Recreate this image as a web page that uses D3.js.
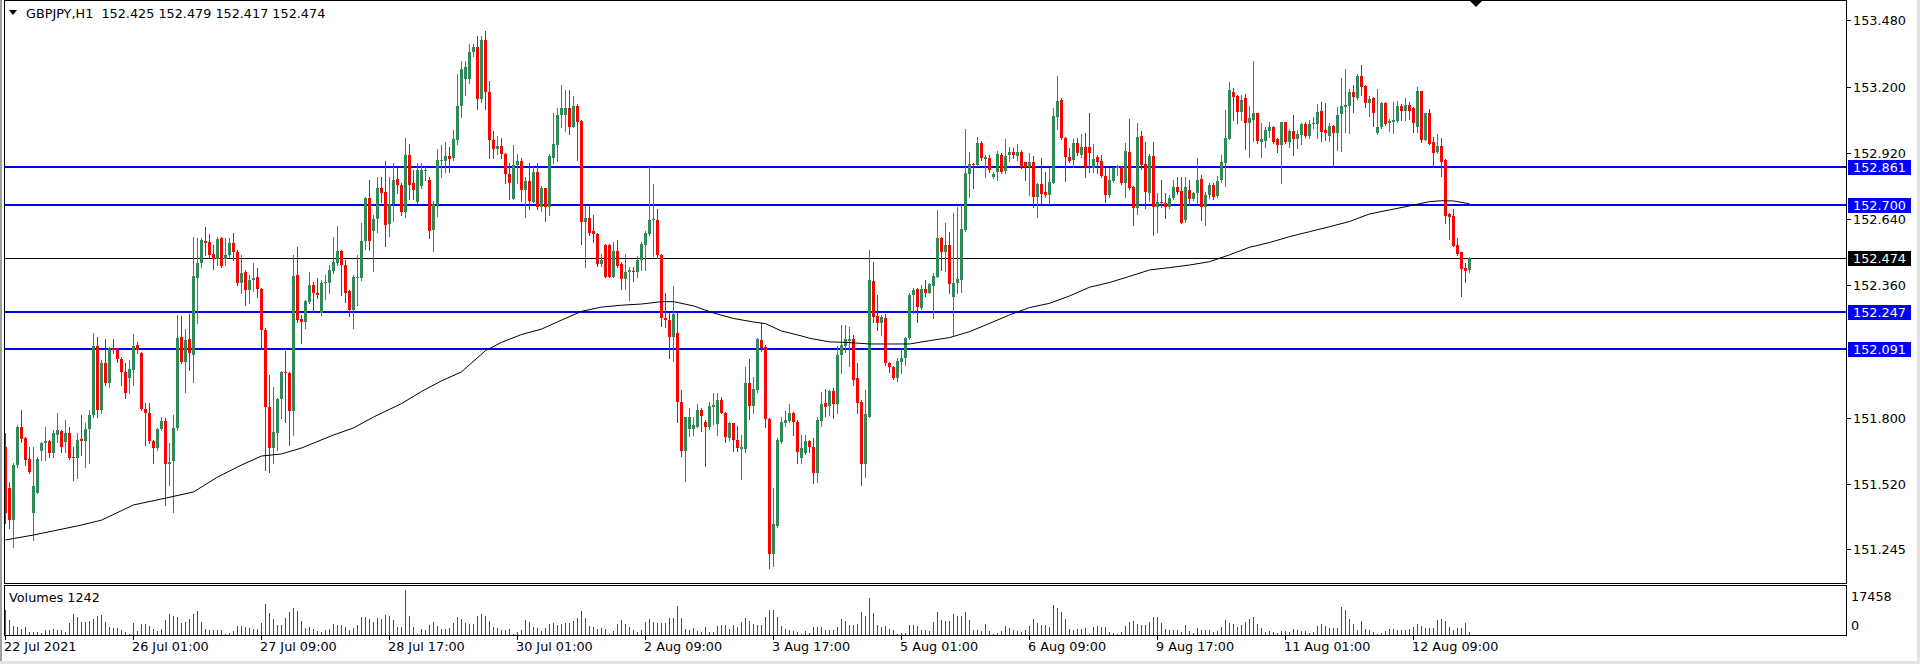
<!DOCTYPE html>
<html><head><meta charset="utf-8">
<script src="https://cdn.jsdelivr.net/npm/d3@7"></script>
<style>
html,body{margin:0;padding:0;background:#fff;overflow:hidden;}
svg{display:block;}
text{font-family:"DejaVu Sans",sans-serif;font-size:12.8px;white-space:pre;}
</style></head><body>
<svg id="c" width="1920" height="664"></svg>
<script>
const symbolTitle = "GBPJPY,H1  152.425 152.479 152.417 152.474";
const opens = [
151.677,151.500,151.366,151.599,151.761,151.712,151.623,151.395,151.482,151.660,
151.691,151.702,151.648,151.726,151.743,151.698,151.733,151.634,151.630,151.708,
151.702,151.750,151.811,152.102,151.832,152.029,151.945,152.093,152.088,152.046,
151.994,151.966,152.001,152.105,152.074,151.835,151.818,151.702,151.670,151.750,
151.787,151.602,151.617,151.754,152.139,152.036,152.131,152.064,152.389,152.452,
152.547,152.541,152.492,152.469,152.558,152.469,152.487,152.537,152.501,152.370,
152.415,152.339,152.382,152.393,152.342,152.170,151.843,151.670,151.736,151.878,
151.991,151.987,151.829,152.403,152.215,152.205,152.290,152.360,152.325,152.241,
152.370,152.370,152.421,152.452,152.504,152.445,152.335,152.255,152.393,152.389,
152.548,152.730,152.589,152.638,152.769,152.755,152.618,152.703,152.807,152.785,
152.668,152.909,152.793,152.710,152.778,152.846,152.804,152.592,152.698,152.884,
152.884,152.906,152.899,152.974,153.118,153.231,153.231,153.344,153.367,153.148,
153.397,153.178,152.974,152.936,152.948,152.914,152.831,152.725,152.868,152.884,
152.763,152.801,152.713,152.838,152.692,152.770,152.692,152.899,152.952,153.080,
153.080,153.110,153.030,153.118,153.053,152.627,152.642,152.589,152.577,152.450,
152.529,152.529,152.396,152.506,152.449,152.385,152.415,152.418,152.415,152.468,
152.529,152.577,152.634,152.634,152.486,152.219,152.212,152.139,152.159,151.864,
151.660,151.751,151.751,151.761,151.831,151.781,151.759,151.845,151.774,151.872,
151.819,151.713,151.777,151.706,151.668,151.668,151.947,151.849,151.917,152.128,
152.098,151.792,151.223,151.343,151.698,151.777,151.786,151.819,151.781,151.627,
151.649,151.701,151.674,151.567,151.787,151.860,151.850,151.914,151.857,152.065,
152.103,152.125,152.131,151.966,151.867,151.603,151.804,152.379,152.229,152.201,
152.222,152.032,152.015,151.966,152.036,152.050,152.135,152.318,152.342,152.262,
152.342,152.328,152.356,152.396,152.558,152.502,152.530,152.308,152.371,152.382,
152.593,152.830,152.872,152.868,152.960,152.892,152.896,152.819,152.840,152.911,
152.844,152.911,152.925,152.906,152.925,152.882,152.858,152.882,152.734,152.788,
152.755,152.741,152.794,153.073,153.143,152.981,152.903,152.889,152.963,152.911,
152.943,152.943,152.854,152.903,152.887,152.822,152.741,152.802,152.854,152.861,
152.791,152.923,152.777,152.685,152.991,152.872,152.751,152.906,152.692,152.713,
152.709,152.692,152.727,152.777,152.760,152.636,152.763,152.723,152.748,152.808,
152.692,152.741,152.784,152.737,152.805,152.878,152.978,153.178,153.160,153.094,
153.150,153.047,153.059,153.090,152.967,152.971,153.013,153.028,152.977,152.953,
153.052,152.967,153.013,152.977,152.995,153.042,152.991,153.042,153.042,153.098,
153.016,152.991,153.033,153.002,153.084,153.115,153.118,153.178,153.150,153.245,
153.202,153.129,153.150,153.002,153.028,153.132,153.044,153.052,153.056,153.118,
153.098,153.122,153.108,153.030,153.183,152.974,153.087,152.966,152.925,152.949,
152.889,152.661,152.653,152.530,152.502,152.433,152.425];
const highs = [
151.733,151.529,151.606,151.768,151.832,151.719,151.677,151.677,151.634,151.698,
151.761,151.705,151.747,151.818,151.747,151.789,151.761,151.677,151.733,151.811,
151.775,151.832,152.156,152.142,152.043,152.131,152.100,152.131,152.093,152.057,
152.029,152.043,152.152,152.121,152.078,151.860,151.860,151.705,151.754,151.803,
151.796,151.691,151.811,152.234,152.229,152.173,152.238,152.565,152.558,152.558,
152.604,152.575,152.530,152.565,152.565,152.558,152.558,152.579,152.508,152.487,
152.424,152.403,152.452,152.431,152.346,152.177,151.980,151.930,151.881,151.998,
152.083,151.994,152.487,152.523,152.234,152.297,152.417,152.375,152.389,152.382,
152.403,152.445,152.565,152.610,152.508,152.466,152.339,152.403,152.487,152.621,
152.734,152.805,152.657,152.819,152.819,152.885,152.816,152.875,152.854,152.793,
152.982,152.959,152.846,152.876,152.876,152.861,152.816,152.717,152.936,152.952,
152.964,152.944,153.015,153.254,153.306,153.306,153.382,153.382,153.412,153.412,
153.435,153.223,153.012,152.989,152.982,152.918,152.876,152.952,152.914,152.899,
152.816,152.876,152.861,152.876,152.778,152.770,152.914,153.090,153.110,153.208,
153.186,153.186,153.160,153.125,153.057,152.695,152.695,152.657,152.582,152.491,
152.536,152.532,152.544,152.551,152.456,152.491,152.438,152.438,152.483,152.544,
152.589,152.858,152.788,152.683,152.491,152.325,152.242,152.355,152.242,151.917,
151.804,151.842,151.804,151.857,151.842,151.789,151.867,151.902,151.902,151.887,
151.822,151.781,151.777,151.766,151.728,152.015,152.046,151.970,152.136,152.200,
152.106,151.796,151.502,151.713,151.804,151.827,151.857,151.822,151.789,151.726,
151.726,151.705,151.712,151.804,151.910,151.919,151.917,151.924,152.103,152.191,
152.191,152.182,152.149,152.029,151.874,151.917,152.509,152.459,152.318,152.234,
152.238,152.036,152.018,152.050,152.089,152.142,152.328,152.347,152.347,152.361,
152.382,152.371,152.410,152.678,152.565,152.622,152.586,152.667,152.692,152.699,
153.019,152.925,152.875,152.988,152.971,152.911,152.911,152.840,152.929,152.918,
152.977,152.943,152.939,152.957,152.932,152.882,152.920,152.906,152.794,152.896,
152.840,152.854,153.108,153.245,153.150,152.985,152.939,152.977,152.981,153.000,
153.002,153.087,152.957,152.911,152.911,152.858,152.854,152.858,152.868,152.864,
152.963,153.061,152.779,153.044,153.013,152.967,152.915,152.967,152.748,152.805,
152.748,152.741,152.805,152.819,152.819,152.819,152.805,152.755,152.896,152.826,
152.755,152.791,152.791,152.822,152.911,153.101,153.221,153.193,153.164,153.164,
153.169,153.118,153.310,153.090,153.047,153.028,153.052,153.033,152.981,153.052,
153.052,153.019,153.080,153.016,153.044,153.052,153.059,153.070,153.126,153.136,
153.132,153.044,153.037,153.115,153.235,153.273,153.188,153.207,153.253,153.291,
153.207,153.160,153.154,153.188,153.136,153.136,153.061,153.136,153.140,153.126,
153.150,153.136,153.115,153.197,153.183,153.090,153.104,152.985,153.000,152.981,
152.892,152.664,152.681,152.558,152.502,152.452,152.479];
const lows = [
151.352,151.331,151.254,151.592,151.698,151.599,151.564,151.282,151.479,151.620,
151.620,151.634,151.634,151.698,151.656,151.656,151.623,151.536,151.543,151.641,
151.592,151.606,151.803,151.803,151.818,151.937,151.930,152.071,152.036,151.937,
151.881,151.905,151.937,152.071,151.832,151.684,151.691,151.609,151.663,151.747,
151.430,151.514,151.402,151.747,152.029,151.906,152.001,151.952,152.198,152.438,
152.487,152.480,152.427,152.445,152.438,152.445,152.480,152.466,152.360,152.325,
152.276,152.283,152.336,152.308,152.093,151.578,151.571,151.606,151.663,151.796,
151.782,151.684,151.726,152.205,152.114,152.177,152.283,152.248,152.304,152.234,
152.300,152.328,152.410,152.445,152.318,152.290,152.229,152.177,152.276,152.382,
152.511,152.508,152.421,152.586,152.713,152.527,152.568,152.633,152.748,152.657,
152.650,152.725,152.725,152.707,152.770,152.804,152.559,152.506,152.653,152.816,
152.838,152.838,152.891,152.959,153.072,153.163,153.216,153.329,153.103,153.133,
153.103,152.899,152.899,152.914,152.899,152.793,152.725,152.725,152.793,152.717,
152.647,152.680,152.710,152.680,152.672,152.631,152.657,152.876,152.884,153.027,
153.012,153.000,153.027,152.891,152.536,152.438,152.574,152.544,152.441,152.441,
152.396,152.393,152.393,152.435,152.345,152.345,152.295,152.378,152.393,152.423,
152.426,152.574,152.483,152.476,152.189,152.181,152.053,152.038,151.781,151.638,
151.532,151.721,151.728,151.759,151.744,151.593,151.751,151.774,151.728,151.819,
151.698,151.706,151.660,151.660,151.540,151.653,151.792,151.819,151.910,152.083,
151.759,151.162,151.170,151.336,151.691,151.766,151.781,151.728,151.608,151.609,
151.646,151.656,151.524,151.529,151.764,151.807,151.811,151.799,151.821,151.987,
152.079,152.018,151.938,151.821,151.515,151.550,151.801,152.206,152.170,152.149,
152.022,151.994,151.962,151.956,151.987,152.022,152.131,152.241,152.206,152.258,
152.314,152.325,152.220,152.393,152.424,152.421,152.325,152.149,152.325,152.332,
152.590,152.731,152.770,152.864,152.889,152.819,152.840,152.812,152.805,152.836,
152.833,152.887,152.896,152.889,152.854,152.805,152.741,152.689,152.647,152.709,
152.734,152.703,152.791,153.019,152.977,152.802,152.882,152.861,152.911,152.903,
152.816,152.840,152.840,152.836,152.816,152.713,152.734,152.798,152.826,152.788,
152.734,152.765,152.614,152.661,152.850,152.685,152.717,152.572,152.586,152.692,
152.643,152.685,152.723,152.746,152.624,152.629,152.699,152.720,152.706,152.636,
152.614,152.727,152.723,152.734,152.798,152.779,152.977,153.059,153.044,153.059,
152.935,152.901,152.971,152.960,152.901,152.943,152.985,152.963,152.925,152.794,
152.960,152.943,152.911,152.939,152.957,152.985,152.981,153.023,152.981,152.971,
152.974,152.971,152.861,152.932,152.929,153.009,153.005,153.094,153.146,153.164,
153.115,153.076,153.033,152.999,153.023,153.037,153.013,153.002,153.052,153.059,
153.059,153.061,153.009,153.009,152.967,152.974,152.957,152.858,152.918,152.822,
152.624,152.554,152.526,152.488,152.314,152.375,152.417];
const closes = [
151.395,151.366,151.599,151.761,151.708,151.620,151.571,151.510,151.623,151.691,
151.702,151.648,151.733,151.747,151.677,151.733,151.630,151.627,151.705,151.702,
151.750,151.811,152.102,151.832,152.029,151.945,152.093,152.086,152.046,151.994,
151.905,152.004,152.102,152.086,151.835,151.818,151.702,151.670,151.750,151.787,
151.602,151.613,151.754,152.135,152.036,152.128,152.071,152.399,152.452,152.551,
152.540,152.487,152.469,152.554,152.441,152.487,152.537,152.501,152.370,152.410,
152.339,152.382,152.392,152.342,152.170,151.843,151.670,151.740,151.878,151.994,
151.987,151.829,152.399,152.212,152.205,152.291,152.360,152.325,152.318,152.370,
152.375,152.424,152.456,152.504,152.445,152.325,152.255,152.396,152.396,152.548,
152.730,152.548,152.638,152.769,152.748,152.614,152.703,152.805,152.783,152.668,
152.909,152.785,152.763,152.846,152.846,152.849,152.589,152.702,152.888,152.888,
152.906,152.894,152.977,153.118,153.273,153.284,153.347,153.367,153.148,153.397,
153.178,152.974,152.936,152.948,152.914,152.828,152.793,152.868,152.884,152.763,
152.801,152.717,152.838,152.692,152.770,152.692,152.906,152.959,153.080,153.110,
153.110,153.030,153.118,153.050,152.627,152.642,152.582,152.577,152.450,152.465,
152.396,152.396,152.506,152.441,152.385,152.415,152.426,152.414,152.468,152.536,
152.582,152.637,152.640,152.486,152.219,152.212,152.139,152.239,151.864,151.660,
151.801,151.801,151.769,151.831,151.807,151.759,151.849,151.852,151.872,151.819,
151.716,151.777,151.706,151.671,151.676,151.947,151.849,151.922,152.133,152.094,
151.792,151.223,151.351,151.706,151.781,151.789,151.819,151.781,151.653,151.670,
151.701,151.674,151.567,151.790,151.857,151.846,151.914,151.857,152.065,152.107,
152.131,152.131,151.959,151.863,151.603,151.815,152.382,152.227,152.201,152.227,
152.029,152.012,151.966,152.041,152.050,152.135,152.318,152.340,152.266,152.342,
152.328,152.365,152.399,152.558,152.502,152.530,152.365,152.371,152.385,152.596,
152.833,152.872,152.868,152.960,152.896,152.901,152.847,152.830,152.915,152.840,
152.906,152.925,152.911,152.925,152.858,152.861,152.882,152.734,152.788,152.746,
152.741,152.798,153.076,153.139,152.981,152.901,152.887,152.963,152.918,152.946,
152.858,152.920,152.892,152.882,152.822,152.741,152.805,152.854,152.864,152.791,
152.929,152.770,152.685,152.988,152.868,152.755,152.906,152.692,152.713,152.706,
152.692,152.727,152.777,152.755,152.624,152.777,152.723,152.751,152.805,152.692,
152.741,152.784,152.734,152.802,152.881,152.981,153.185,153.157,153.094,153.143,
153.047,153.066,153.090,152.971,152.980,153.016,153.028,152.967,152.953,153.052,
152.967,153.013,152.977,152.999,153.042,152.991,153.042,153.047,153.094,153.009,
153.002,153.033,153.005,153.080,153.118,153.122,153.178,153.154,153.245,153.197,
153.132,153.146,153.090,153.028,153.132,153.042,153.056,153.059,153.118,153.098,
153.122,153.098,153.044,153.183,152.974,153.087,152.957,152.918,152.949,152.882,
152.652,152.650,152.526,152.492,152.427,152.421,152.474];
const volumes = [
9760,5910,3600,3210,2440,3210,1280,1160,1280,900,
1800,1850,2440,2050,1930,1280,4750,8220,7060,5140,
4880,5520,6290,7450,7830,5140,2950,2570,2570,2050,
1160,510,4620,1670,4110,4240,3600,2180,1670,2440,
5780,8220,7450,6810,4490,5140,6030,8090,9370,5140,
2440,1800,1800,2050,1930,260,640,1670,3600,3340,
2950,2700,2310,2180,4750,12070,8470,6160,3980,3980,
6420,8990,10530,9370,5520,2700,3210,2310,1540,1030,
1800,2310,4370,3980,3720,3080,1800,2820,3980,7060,
7060,6030,4880,6420,6030,7580,7450,5650,2950,2950,
17458,7450,2950,390,2440,1800,3980,5140,3600,2180,
2180,2570,4620,7060,6160,4620,4370,4370,7450,8220,
7320,5520,2950,2570,1930,2050,2440,510,1160,2050,
5910,4880,2950,2570,1410,2570,4370,4750,3980,4370,
4490,4620,5520,6420,9370,6680,3600,2950,2440,2700,
2440,260,1670,4370,5910,4370,2950,1930,1160,1930,
5140,6290,5140,4490,4620,4750,6420,6550,11300,6550,
2440,1800,2820,1670,1280,3210,1280,1280,3340,3980,
3980,2180,3980,3080,4880,6680,5260,4240,3980,3720,
6810,9890,9890,6810,3340,2440,2050,1670,1280,510,
1410,900,2950,2950,3210,1800,1800,1800,3210,6030,
5260,3720,3720,4370,8730,7190,14510,8350,3980,3080,
3340,2440,1800,260,900,900,3980,3720,3340,2050,
1800,1670,5010,8860,5780,5260,5300,8220,7320,7320,
8990,5650,2050,1800,1670,4370,1670,260,770,1670,
3600,2820,2050,1670,1280,2050,3600,6290,4750,3980,
3980,3210,11680,10660,8730,6290,2440,2050,2440,2180,
2820,260,3210,3340,3210,3210,1280,900,510,1280,
3600,5140,5520,4370,3980,3980,5140,7060,7060,4750,
2440,1800,1930,2050,1280,3980,1670,900,2820,1800,
1800,1800,1280,1670,3210,5910,4750,4370,3210,3980,
5140,6290,7060,4370,2820,1280,1670,1280,900,1670,
1670,1280,2440,2050,1670,1670,900,1280,3600,4370,
3600,2820,2820,2820,10910,9760,6290,4370,2050,5520,
2440,2050,1280,510,900,1670,2440,2440,2050,2050,
2050,2440,3210,4370,3600,2820,2820,2820,5910,6290,
5520,3210,2050,2820,2820,4750,1242];
const maBars = [0,7,19,24,32,40,47,53,59,64,69,74,82,87,92,99,104,109,114,120,124,129,134,139,144,149,154,159,164,167,172,177,182,187,190,194,199,201,206,211,216,221,226,231,236,241,246,251,256,261,266,271,276,281,286,291,296,301,306,311,316,321,326,331,336,341,346,351,356,359,362,366];
const maValues = [151.282,151.303,151.345,151.366,151.430,151.459,151.485,151.548,151.599,151.637,151.646,151.671,151.726,151.756,151.802,151.859,151.910,151.955,151.993,152.083,152.118,152.151,152.174,152.212,152.249,152.267,152.275,152.280,152.290,152.290,152.272,152.242,152.219,152.204,152.197,152.166,152.145,152.135,152.120,152.117,152.111,152.111,152.111,152.125,152.138,152.163,152.198,152.234,152.265,152.283,152.314,152.351,152.371,152.397,152.424,152.434,152.445,152.459,152.488,152.520,152.540,152.565,152.586,152.607,152.629,152.661,152.678,152.695,152.713,152.717,152.716,152.704];
const dateBars = [0,32,64,96,128,160,192,224,256,288,320,352];
const dateLabels = ["22 Jul 2021","26 Jul 01:00","27 Jul 09:00","28 Jul 17:00","30 Jul 01:00","2 Aug 09:00","3 Aug 17:00","5 Aug 01:00","6 Aug 09:00","9 Aug 17:00","11 Aug 01:00","12 Aug 09:00"];
const priceTicks = [153.480,153.200,152.920,152.640,152.360,151.800,151.520,151.245];
const blueLevels = [152.861,152.700,152.247,152.091];
const bidPrice = 152.474;
const volumeMax = 17458;
const volumeLabel = "Volumes 1242";

const svg = d3.select("#c");
const L = 4.5, R = 1846.5, T = 0.5, B = 583.5, VT = 585.5, VB = 635.5;
const N = opens.length;
const x = d3.scaleLinear().domain([0, N - 1]).range([5.5, 5.5 + 4 * (N - 1)]);
const y = d3.scaleLinear().domain([151.100, 153.566]).range([583, 0]);
const vy = d3.scaleLinear().domain([0, volumeMax]).range([635, 590]);

// window frame
svg.append("rect").attr("x",0).attr("y",0).attr("width",1920).attr("height",664).attr("fill","#fff");
svg.append("rect").attr("x",0).attr("y",0).attr("width",2).attr("height",664).attr("fill","#a0a0a0");
svg.append("rect").attr("x",1917).attr("y",0).attr("width",3).attr("height",664).attr("fill","#e3e3e3");
svg.append("rect").attr("x",0).attr("y",661).attr("width",1920).attr("height",3).attr("fill","#e3e3e3");

svg.append("defs").append("clipPath").attr("id","pc").append("rect")
  .attr("x",L).attr("y",T).attr("width",R-L).attr("height",B-T);
const g = svg.append("g").attr("clip-path","url(#pc)").attr("shape-rendering","crispEdges");

// horizontal levels
blueLevels.forEach(v => {
  g.append("rect").attr("x",L).attr("width",R-L).attr("y",Math.round(y(v))-1).attr("height",2).attr("fill","#0000ff");
});
g.append("rect").attr("x",L).attr("width",R-L).attr("y",Math.round(y(bidPrice))).attr("height",1).attr("fill","#000");

// moving average
const maLine = d3.line().x((d,k)=>x(maBars[k])).y(d=>y(d));
svg.append("path").attr("clip-path","url(#pc)").datum(maValues).attr("d",maLine)
  .attr("fill","none").attr("stroke","#000").attr("stroke-width",1);

// candles
const idx = d3.range(N);
const up = i => closes[i] >= opens[i];
const col = i => up(i) ? "#2e8b57" : "#ff0000";
g.selectAll("rect.w").data(idx).enter().append("rect").attr("class","w")
  .attr("x", i => x(i) - 0.5).attr("width", 1)
  .attr("y", i => Math.round(y(Math.max(highs[i], opens[i], closes[i]))))
  .attr("height", i => Math.max(1, Math.round(y(Math.min(lows[i], opens[i], closes[i]))) - Math.round(y(Math.max(highs[i], opens[i], closes[i]))) + 1))
  .attr("fill", col);
g.selectAll("rect.b").data(idx).enter().append("rect").attr("class","b")
  .attr("x", i => x(i) - 1.5).attr("width", 3)
  .attr("y", i => Math.round(y(Math.max(opens[i], closes[i]))))
  .attr("height", i => Math.max(1, Math.round(y(Math.min(opens[i], closes[i]))) - Math.round(y(Math.max(opens[i], closes[i])))))
  .attr("fill", col);

// borders
svg.append("rect").attr("x",L).attr("y",T).attr("width",R-L).attr("height",B-T).attr("fill","none").attr("stroke","#000").attr("shape-rendering","crispEdges");
svg.append("rect").attr("x",L).attr("y",VT).attr("width",R-L).attr("height",VB-VT).attr("fill","none").attr("stroke","#000").attr("shape-rendering","crispEdges");

// shift marker
svg.append("path").attr("d","M1470,1 L1482,1 L1476,7 Z").attr("fill","#000");

// title
svg.append("path").attr("d","M9,10 L17,10 L13,15 Z").attr("fill","#000");
svg.append("text").attr("x",26).attr("y",18).attr("fill","#000").text(symbolTitle);

// price axis
const ax = svg.append("g");
priceTicks.forEach(v => {
  const yy = Math.round(y(v)) + 0.5;
  ax.append("line").attr("x1",R).attr("x2",R+4).attr("y1",yy).attr("y2",yy).attr("stroke","#000").attr("shape-rendering","crispEdges");
  ax.append("text").attr("x",1853).attr("y",yy+4.5).attr("fill","#000").text(d3.format(".3f")(v));
});
function tag(v, bg) {
  const yy = Math.round(y(v));
  ax.append("rect").attr("x",1848).attr("y",yy-7).attr("width",63).attr("height",15).attr("fill",bg);
  ax.append("text").attr("x",1853).attr("y",yy+5).attr("fill","#fff").text(d3.format(".3f")(v));
}
blueLevels.forEach(v => tag(v, "#0000ff"));
tag(bidPrice, "#000");

// volume
const vg = svg.append("g").attr("shape-rendering","crispEdges");
vg.selectAll("rect").data(idx).enter().append("rect")
  .attr("x", i => x(i) - 0.5).attr("width", 1)
  .attr("y", i => Math.round(vy(volumes[i])))
  .attr("height", i => 635 - Math.round(vy(volumes[i])))
  .attr("fill", i => (i > 0 && volumes[i] > volumes[i-1]) ? "#008000" : "#ff0000");
svg.append("text").attr("x",9).attr("y",602).attr("fill","#000").text(volumeLabel);
svg.append("text").attr("x",1851).attr("y",601).attr("fill","#000").text(String(volumeMax));
svg.append("text").attr("x",1851).attr("y",630).attr("fill","#000").text("0");

// time axis
dateBars.forEach((b,k) => {
  const xx = x(b);
  svg.append("line").attr("x1",xx).attr("x2",xx).attr("y1",VB).attr("y2",VB+4).attr("stroke","#000").attr("shape-rendering","crispEdges");
  svg.append("text").attr("x",xx-1.5).attr("y",651).attr("fill","#000").text(dateLabels[k]);
});
</script>
</body></html>
